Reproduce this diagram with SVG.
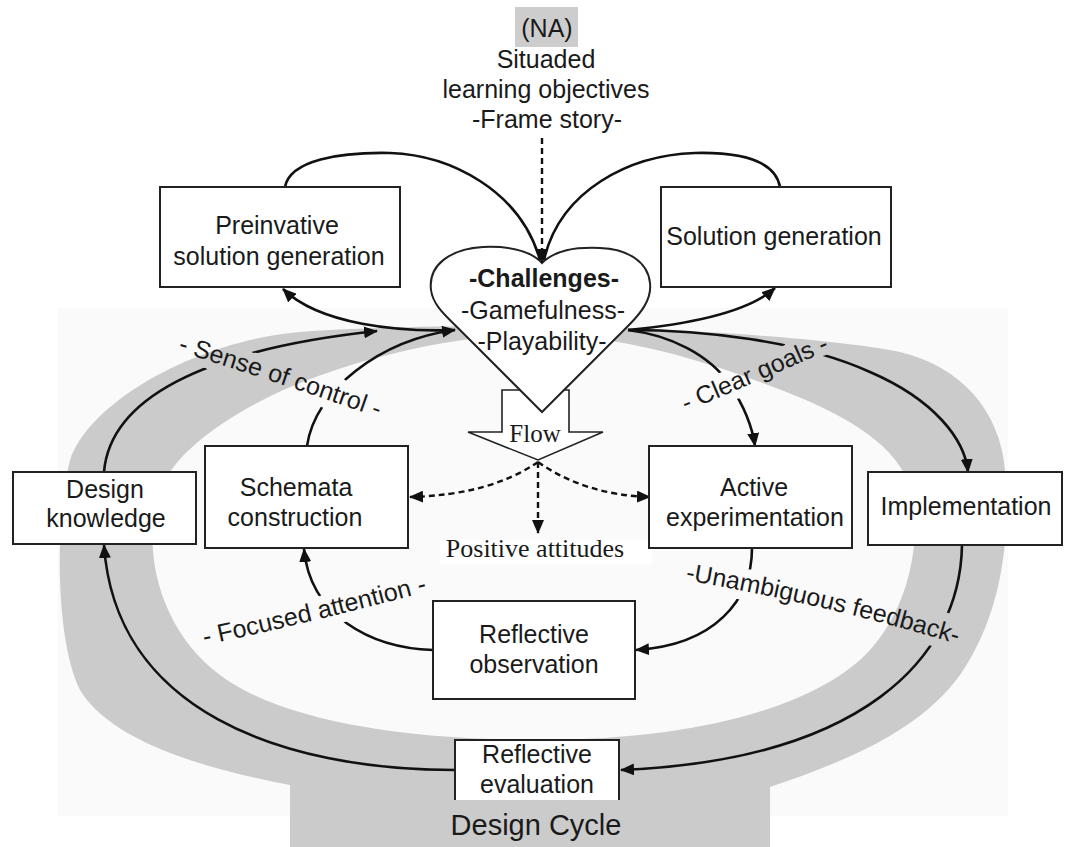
<svg xmlns="http://www.w3.org/2000/svg" width="1066" height="847" viewBox="0 0 1066 847">
<defs>
<style>
.t{font-family:"Liberation Sans",Arial,sans-serif;font-size:25px;fill:#1a1a1a;text-anchor:middle}
.b{font-weight:bold}
.s{font-family:"Liberation Serif","Times New Roman",serif;fill:#1a1a1a;text-anchor:middle}
.box{fill:#fff;stroke:#222;stroke-width:2}
.c{fill:none;stroke:#111;stroke-width:2.6;marker-end:url(#ah)}
.n{fill:none;stroke:#111;stroke-width:2.6}
.d{fill:none;stroke:#111;stroke-width:2.4;stroke-dasharray:6 4;marker-end:url(#ah)}
.m{fill:#000;stroke:#000;stroke-width:18;stroke-linejoin:round}
</style>
<marker id="ah" viewBox="0 0 14 12" refX="13" refY="6" markerWidth="14" markerHeight="12" markerUnits="userSpaceOnUse" orient="auto">
<path d="M0,0 L14,6 L0,12 Z" fill="#111"/>
</marker>
<path id="p-sense" d="M168,348 Q275,381 388,421"/>
<path id="p-goals" d="M678,415 Q752,384 838,346"/>
<path id="p-focus" d="M196,647 Q315,622 436,589"/>
<path id="p-feed" d="M678,579 Q822,603 964,646"/>
<mask id="gap" maskUnits="userSpaceOnUse" x="0" y="0" width="1066" height="847">
<rect width="1066" height="847" fill="#fff"/>
<text class="t m"><textPath href="#p-sense" startOffset="50%">- Sense of control -</textPath></text>
<text class="t m"><textPath href="#p-goals" startOffset="50%">- Clear goals -</textPath></text>
<text class="t m"><textPath href="#p-focus" startOffset="50%">- Focused attention -</textPath></text>
<text class="t m"><textPath href="#p-feed" startOffset="50%">-Unambiguous feedback-</textPath></text>
</mask>
</defs>

<g id="background">
<rect x="58" y="308" width="950" height="508" fill="#fafafa"/>
<path fill="#cbcbcb" fill-rule="evenodd" d="M542,326 C640,327 820,336 900,352 C960,366 1000,410 1005,470 C1010,530 1005,610 960,675 C920,730 850,760 770,787 L770,847 L290,847 L290,785 C200,768 110,740 80,690 C55,640 55,520 70,460 C90,400 200,340 300,332 C380,326 480,326 542,326 Z M542,334 C600,336 660,348 720,368 C800,395 880,425 905,475 C925,520 915,600 870,650 C820,705 700,740 540,740 C400,740 280,720 220,675 C160,630 140,550 160,490 C180,440 260,395 330,372 C400,348 480,334 542,334 Z"/>
</g>

<g id="top-text">
<rect x="515" y="7" width="63" height="40" fill="#cdcdcd"/>
<text class="t" x="547" y="37">(NA)</text>
<text class="t" x="546" y="68">Situaded</text>
<text class="t" x="546" y="98">learning objectives</text>
<text class="t" x="547" y="128">-Frame story-</text>
</g>

<g id="flow">
<polygon points="502,390 502,432 468,432 538,460 603,432 569,432 569,390" fill="#fff" stroke="#222" stroke-width="1.6"/>
<text class="s" x="535" y="442" font-size="25">Flow</text>
</g>

<g id="challenges">
<path d="M542,263 C530,250 510,246 483,247 C450,249 428,265 431,290 C433,305 445,315 458,328 L542,412 L628,326 C640,314 652,300 650,283 C648,262 628,249 600,248 C575,247 555,250 542,263 Z" fill="#fff" stroke="#222" stroke-width="2"/>
<text class="t b" x="544" y="287">-Challenges-</text>
<text class="t" x="543" y="319">-Gamefulness-</text>
<text class="t" x="542" y="350">-Playability-</text>
</g>

<g id="positive-attitudes">
<rect x="440" y="540" width="212" height="24" fill="#fff"/>
<text class="s" x="535" y="557" font-size="26">Positive attitudes</text>
</g>

<g id="connectors">
<g mask="url(#gap)">
<path class="c" d="M104,472 C110,400 200,350 377,331"/>
<path class="c" d="M307,446 C315,390 380,340 455,330"/>
<path class="c" d="M628,330 C700,330 800,340 870,372 C935,400 965,440 968,472"/>
<path class="c" d="M628,330 C670,335 710,355 730,385 C742,403 752,425 755,446"/>
<path class="c" d="M962,545 C960,660 860,760 621,770"/>
<path class="c" d="M752,548 C752,600 715,645 636,650"/>
<path class="c" d="M433,650 C370,648 310,615 304,549"/>
</g>
<path class="c" d="M455,330 C400,332 320,325 283,289"/>
<path class="c" d="M628,330 C680,325 745,315 775,288"/>
<path class="c" d="M455,770 C280,770 115,710 104,545"/>
<path class="n" d="M285,187 C290,160 340,152 390,153 C450,155 520,190 540,260"/>
<path class="n" d="M780,187 C775,160 740,152 695,153 C630,155 560,190 544,260"/>
<path class="d" d="M542,138 L542,262"/>
<path class="d" d="M538,462 Q490,495 410,497"/>
<path class="d" d="M538,462 Q585,495 650,497"/>
<path class="d" d="M538,462 L538,533"/>
</g>

<g id="labels">
<text class="t"><textPath href="#p-sense" startOffset="50%">- Sense of control -</textPath></text>
<text class="t"><textPath href="#p-goals" startOffset="50%">- Clear goals -</textPath></text>
<text class="t"><textPath href="#p-focus" startOffset="50%">- Focused attention -</textPath></text>
<text class="t"><textPath href="#p-feed" startOffset="50%">-Unambiguous feedback-</textPath></text>
</g>

<g id="preinvative">
<rect class="box" x="160" y="187" width="240" height="100"/>
<text class="t" x="277" y="234">Preinvative</text>
<text class="t" x="279" y="265">solution generation</text>
</g>
<g id="solution-generation">
<rect class="box" x="661" y="187" width="230" height="100"/>
<text class="t" x="774" y="245">Solution generation</text>
</g>
<g id="design-knowledge">
<rect class="box" x="13" y="472" width="183" height="72"/>
<text class="t" x="105" y="498">Design</text>
<text class="t" x="106" y="527">knowledge</text>
</g>
<g id="schemata">
<rect class="box" x="205" y="446" width="203" height="102"/>
<text class="t" x="296" y="496">Schemata</text>
<text class="t" x="295" y="526">construction</text>
</g>
<g id="active">
<rect class="box" x="649" y="446" width="203" height="102"/>
<text class="t" x="754" y="496">Active</text>
<text class="t" x="755" y="526">experimentation</text>
</g>
<g id="implementation">
<rect class="box" x="868" y="472" width="194" height="73"/>
<text class="t" x="966" y="515">Implementation</text>
</g>
<g id="reflective-observation">
<rect class="box" x="433" y="601" width="202" height="98"/>
<text class="t" x="534" y="643">Reflective</text>
<text class="t" x="534" y="673">observation</text>
</g>
<g id="reflective-evaluation">
<rect x="455" y="740" width="164" height="60" fill="#fff"/>
<path d="M455,800 V740 H619 V800" fill="none" stroke="#222" stroke-width="2"/>
<text class="t" x="537" y="763">Reflective</text>
<text class="t" x="537" y="793">evaluation</text>
</g>
<g id="design-cycle">
<text class="t" x="536" y="835" font-size="29" style="font-size:29px">Design Cycle</text>
</g>
</svg>
